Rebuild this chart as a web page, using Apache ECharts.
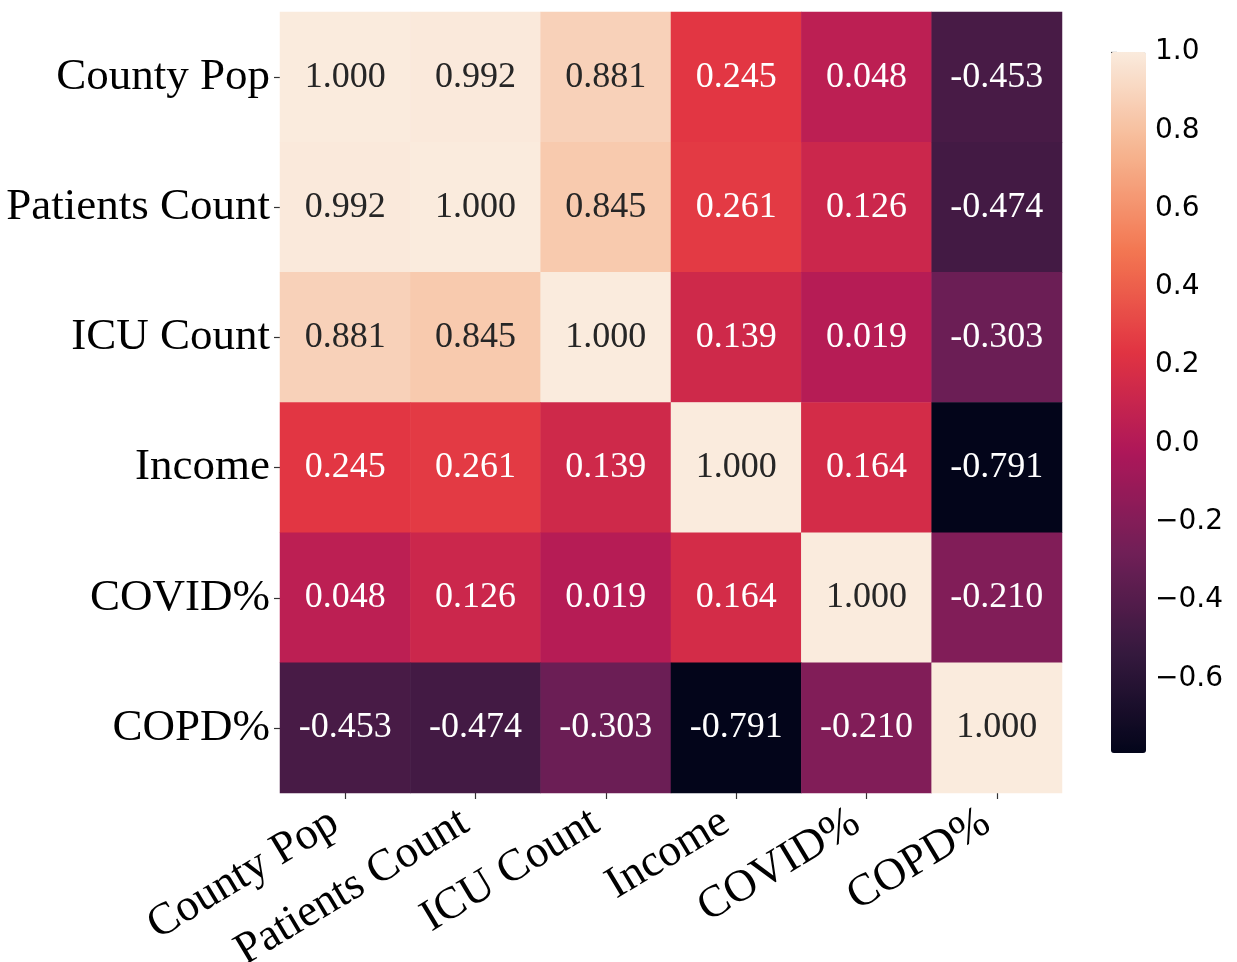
<!DOCTYPE html>
<html>
<head>
<meta charset="utf-8">
<script src="https://cdn.jsdelivr.net/npm/echarts@6/dist/echarts.min.js"></script>
<style>
html,body{margin:0;padding:0;background:#fff;}
#chart{width:1237px;height:962px;}
</style>
</head>
<body>
<div id="chart"></div>
<script>
const labels = ['County Pop', 'Patients Count', 'ICU Count', 'Income', 'COVID%', 'COPD%'];
const row0 = [1.000, 0.992, 0.881, 0.245, 0.048, -0.453];
const row1 = [0.992, 1.000, 0.845, 0.261, 0.126, -0.474];
const row2 = [0.881, 0.845, 1.000, 0.139, 0.019, -0.303];
const row3 = [0.245, 0.261, 0.139, 1.000, 0.164, -0.791];
const row4 = [0.048, 0.126, 0.019, 0.164, 1.000, -0.210];
const row5 = [-0.453, -0.474, -0.303, -0.791, -0.210, 1.000];
const rows = [row0, row1, row2, row3, row4, row5];
const vMin = -0.791, vMax = 1.0;
const rocket = ['#03051A', '#35193E', '#701F57', '#AD1759', '#E13342', '#F37651', '#F6B48F', '#FAEBDD'];

const data = [];
rows.forEach((r, yi) => r.forEach((v, xi) => {
  data.push({
    value: [xi, yi, v],
    label: { color: v > 0.5 ? '#262626' : '#ffffff' }
  });
}));

const serif = '"Liberation Serif", "Times New Roman", serif';
const chart = echarts.init(document.getElementById('chart'), null, { renderer: 'canvas' });
chart.setOption({
  animation: false,
  backgroundColor: '#ffffff',
  grid: [
    { left: 280, top: 12, width: 782, height: 781, containLabel: false, outerBoundsMode: 'none' },
    { left: 1111, top: 52, width: 35, height: 701, containLabel: false, outerBoundsMode: 'none' }
  ],
  xAxis: [
    {
      type: 'category', data: labels, gridIndex: 0,
      axisLine: { show: false },
      axisTick: { show: true, alignWithLabel: true, length: 6, lineStyle: { color: '#333', width: 1.2 } },
      axisLabel: { rotate: 31, margin: 20, padding: [0, 12, 0, 0], fontFamily: serif, fontSize: 45, color: '#000', interval: 0 },
      splitLine: { show: false }
    },
    { type: 'value', gridIndex: 1, show: false, min: 0, max: 1 }
  ],
  yAxis: [
    {
      type: 'category', data: labels, gridIndex: 0, inverse: true,
      axisLine: { show: false },
      axisTick: { show: true, alignWithLabel: true, length: 6, lineStyle: { color: '#333', width: 1.2 } },
      axisLabel: { margin: 10, fontFamily: serif, fontSize: 45, color: '#000', interval: 0 },
      splitLine: { show: false }
    },
    {
      type: 'value', gridIndex: 1, position: 'right', min: vMin, max: vMax, splitNumber: 9,
      axisLine: { show: false },
      axisTick: { show: true, length: 6, lineStyle: { color: '#333', width: 1.2 } },
      splitLine: { show: false },
      axisLabel: {
        showMinLabel: false, margin: 9, fontFamily: '"DejaVu Sans", sans-serif', fontSize: 28, color: '#000',
        formatter: v => Math.abs(v) < 1e-9 ? '0.0' : v.toFixed(1).replace('-', '\u2212')
      }
    }
  ],
  visualMap: {
    type: 'continuous', min: vMin, max: vMax, calculable: false, show: true,
    orient: 'vertical', left: 1111, top: 52, itemWidth: 35, itemHeight: 701,
    padding: 0, text: null, showLabel: false, hoverLink: false,
    inRange: { color: rocket }, seriesIndex: 0
  },
  series: [{
    type: 'heatmap', xAxisIndex: 0, yAxisIndex: 0, data: data,
    label: {
      show: true, fontFamily: serif, fontSize: 36,
      formatter: p => p.value[2].toFixed(3)
    },
    itemStyle: { borderWidth: 0 }
  }]
});
</script>
</body>
</html>
